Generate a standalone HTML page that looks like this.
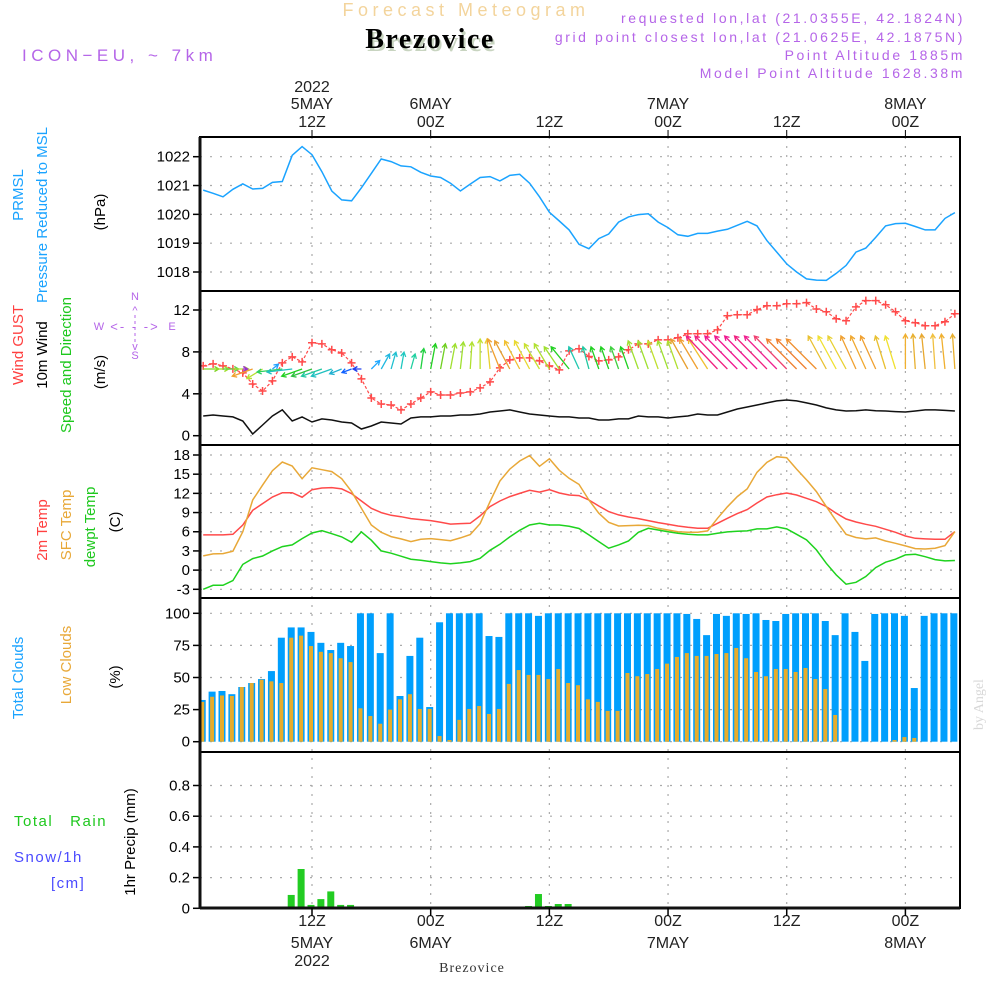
<!DOCTYPE html>
<html><head><meta charset="utf-8"><style>
html,body{margin:0;padding:0;background:#fff}
svg{display:block}
text{font-family:"Liberation Sans",sans-serif}
</style></head><body>
<svg id="chart" width="1000" height="1000" viewBox="0 0 1000 1000" xmlns="http://www.w3.org/2000/svg">
<text x="466" y="16" text-anchor="middle" font-size="18" fill="#f3d49c" letter-spacing="4.5">Forecast Meteogram</text>
<text x="432" y="51" text-anchor="middle" font-size="28" font-weight="bold" fill="#c8d4c0" letter-spacing="1.5" style="font-family:'Liberation Serif',serif">Brezovice</text>
<text x="430" y="48" text-anchor="middle" font-size="28" font-weight="bold" fill="#000" letter-spacing="1.5" style="font-family:'Liberation Serif',serif">Brezovice</text>
<text x="22" y="61" font-size="17" fill="#b565e8" letter-spacing="4.5">ICON−EU, ~ 7km</text>
<g font-size="14" fill="#b565e8" text-anchor="end" letter-spacing="2.6">
<text x="965" y="23">requested lon,lat (21.0355E, 42.1824N)</text>
<text x="965" y="42">grid point closest lon,lat (21.0625E, 42.1875N)</text>
<text x="965" y="60">Point Altitude 1885m</text>
<text x="965" y="78">Model Point Altitude 1628.38m</text>
</g>
<text transform="translate(983,730) rotate(-90)" font-size="14" fill="#d8d8d8" style="font-family:'Liberation Serif',serif">by Angel</text>
<text x="472" y="972" text-anchor="middle" font-size="14" fill="#333" letter-spacing="1" style="font-family:'Liberation Serif',serif">Brezovice</text>
<g id="g"></g>
</svg>
<script>
const pressure=[1020.84,1020.73,1020.61,1020.87,1021.06,1020.88,1020.9,1021.11,1021.14,1022.05,1022.35,1022.07,1021.48,1020.81,1020.5,1020.47,1020.92,1021.42,1021.92,1021.83,1021.68,1021.65,1021.46,1021.33,1021.28,1021.08,1020.81,1021.05,1021.28,1021.31,1021.16,1021.35,1021.39,1021.08,1020.61,1020.07,1019.77,1019.46,1018.96,1018.81,1019.16,1019.32,1019.73,1019.91,1019.99,1020.02,1019.73,1019.54,1019.29,1019.24,1019.34,1019.34,1019.42,1019.48,1019.62,1019.76,1019.6,1019.09,1018.69,1018.28,1018.0,1017.76,1017.72,1017.71,1017.95,1018.23,1018.69,1018.83,1019.2,1019.6,1019.68,1019.69,1019.58,1019.46,1019.46,1019.86,1020.06];
const gust=[6.67,6.86,6.67,6.38,6.0,4.94,4.27,5.23,6.95,7.53,7.05,8.87,8.77,8.2,7.9,6.95,5.42,3.6,3.03,2.93,2.46,3.03,3.6,4.18,3.89,3.89,4.08,4.18,4.56,5.14,6.48,7.24,7.43,7.43,7.14,6.67,6.28,8.1,8.3,7.56,7.14,7.24,7.53,8.2,8.77,8.77,9.15,9.15,9.35,9.73,9.73,9.73,10.1,11.45,11.55,11.55,12.03,12.4,12.4,12.6,12.6,12.7,12.1,11.83,11.16,10.97,12.3,12.9,12.9,12.5,11.83,10.97,10.78,10.5,10.5,10.88,11.64];
const windSpeed=[1.88,1.98,1.88,1.79,1.4,0.16,1.02,1.88,2.46,1.4,1.79,1.31,1.6,1.5,1.31,1.21,0.64,0.93,1.31,1.21,1.12,1.69,1.79,1.79,1.88,1.88,1.98,1.98,2.07,2.26,2.36,2.46,2.26,2.07,1.98,1.88,1.79,1.79,1.69,1.69,1.5,1.5,1.6,1.6,1.88,1.79,1.79,1.69,1.79,1.88,2.07,1.98,1.98,2.26,2.55,2.74,2.93,3.13,3.32,3.41,3.32,3.13,2.93,2.65,2.46,2.36,2.39,2.46,2.39,2.36,2.3,2.26,2.36,2.46,2.46,2.42,2.36];
const windU=[1.3,1.3,1.3,1.3,0.4,-1.7,-1.3,0.5,-2.1,-2.1,-1.7,-1.7,-1.7,-1.7,-1.0,-0.8,-0.7,0.7,0.7,0.4,0.25,0.35,0.25,0.4,0.4,0.4,0.25,0.15,0,-0.25,-1.0,-1.25,-1.25,-1.25,-1.25,-1.25,-1.25,-1.5,-0.85,-0.5,-0.65,-0.65,-0.65,-0.65,-0.85,-0.85,-0.85,-0.85,-0.85,-1.4,-1.5,-1.6,-2.6,-2.7,-2.7,-2.7,-2.7,-2.7,-2.7,-2.7,-2.5,-2.5,-2.5,-1.5,-1.5,-1.5,-1.25,-1.25,-1.25,-0.85,-0.85,0,-0.2,-0.3,-0.2,-0.3,-0.2];
const windV=[0,0,0,0,0,-0.6,-0.8,0.4,-0.25,-0.25,-0.6,-0.6,-0.6,-0.6,-0.4,-0.3,0,0.7,1.25,1.4,1.4,1.25,1.7,2.1,2.1,2.1,2.25,2.25,2.5,2.5,2.5,2.35,2.35,2.35,2.1,2.1,1.85,1.85,1.85,1.85,1.85,1.85,1.85,1.85,2.35,2.35,2.35,2.35,2.35,2.5,2.5,2.5,2.75,2.75,2.75,2.75,2.75,2.75,2.75,2.75,2.5,2.5,2.5,2.75,2.75,2.75,2.75,2.75,2.75,2.75,2.75,2.9,2.9,2.9,2.9,2.9,2.9];
const arrowColors=["#7ed321","#9be02a","#5cd64a","#b0e030","#9b30d0","#f0a030","#b8e030","#20a0ff","#30d060","#20c0c0","#20d020","#30c040","#20c8a0","#20c0c0","#20b0d0","#1060ff","#2040f0","#20a8ff","#20b8e0","#20c0d0","#20c8c0","#20d0a0","#20d040","#20d020","#70d020","#a0e030","#a0e030","#b0e030","#c0e030","#e8d030","#f0a030","#e8a030","#f0c030","#e8d830","#c8e030","#b0e030","#a0e030","#20d020","#20c8b0","#20c8a0","#20d020","#20d020","#40d040","#20d020","#a0e030","#a0e030","#c0e030","#a0e030","#b0e030","#e8a030","#f0a030","#f0c030","#f02080","#f02080","#f01890","#f01890","#f01890","#f02080","#f02090","#f04070","#f08030","#f08030","#f09030","#e8c030","#f0e030","#e8d030","#f0a030","#f0a830","#f0a030","#e8c030","#f0e030","#f0b030","#e8b030","#e8a830","#f0c040","#f0b030","#e8b030"];
const temp2m=[5.5,5.5,5.5,5.6,7.06,9.35,10.4,11.44,12.1,12.1,11.4,12.58,12.84,12.9,12.7,11.96,10.8,9.67,9.0,8.57,8.36,8.05,7.9,7.74,7.48,7.2,7.27,7.32,8.47,9.93,10.8,11.5,12.0,12.48,12.2,12.58,12.06,11.75,11.65,10.97,10.03,9.15,8.63,8.3,8.05,7.74,7.43,7.17,6.9,6.7,6.54,6.54,7.32,8.1,8.83,9.46,10.5,11.44,11.8,12.06,11.75,11.23,10.7,9.93,8.9,8.0,7.53,7.17,6.85,6.38,5.92,5.34,4.98,4.88,4.82,4.82,6.02];
const tempSfc=[2.22,2.53,2.58,2.95,6.0,10.97,13.3,15.55,16.9,16.28,14.3,16.0,15.7,15.4,14.3,12.27,9.67,7.06,5.92,5.24,4.88,4.46,4.82,4.93,4.77,4.6,5.03,5.55,7.27,10.7,13.94,15.8,17.06,17.9,16.23,17.4,15.6,14.35,13.4,10.97,8.9,7.48,6.9,6.96,7.0,6.96,6.54,6.28,6.0,5.92,5.92,6.13,8.1,9.9,11.5,12.7,15.3,16.85,17.74,17.58,15.8,14.1,12.27,9.93,7.7,5.6,5.1,4.88,5.03,4.56,4.2,3.78,3.36,3.3,3.42,3.83,6.02];
const dewpt=[-3,-2.37,-2.37,-1.64,0.9,1.8,2.2,3.0,3.68,3.94,4.93,5.8,6.18,5.7,5.2,4.35,5.97,4.67,3.0,2.64,2.17,1.7,1.54,1.33,1.13,1.0,1.13,1.33,1.85,3.1,4.04,5.2,6.23,7.06,7.32,7.06,7.06,6.85,6.5,5.5,4.46,3.42,3.94,4.56,5.92,6.54,6.28,6.0,5.76,5.6,5.5,5.5,5.76,5.97,6.07,6.13,6.44,6.44,6.75,6.44,5.6,4.72,3.16,1.07,-0.75,-2.2,-1.9,-1.0,0.4,1.23,1.7,2.38,2.48,2.1,1.65,1.44,1.5];
const totalCloud=[32.5,39,39.5,37,42.6,45.7,48.8,55,81,89,89,85.5,77,71.4,77,74.5,100,100,69,100,35.6,66.8,81,27,93,100,100,100,100,82.3,81.6,100,100,100,98,100,100,100,100,100,100,100,100,100,100,100,100,100,100,99.5,95.6,83,99.5,98,100,99.5,100,94.8,94,99.5,100,100,100,94,83,100,85.5,62.9,99.5,100,100,98,41.8,98,100,100,100];
const lowCloud=[31,35,36,35.6,42.6,45.7,48.3,47,45.7,81,82.6,74.5,70,69,65,62,26,20,14,25,33,37,25.5,25.5,4.4,1.3,17,25.5,27.8,21.6,25.5,45,55.8,52,52,48.8,56.6,45.7,44,33,31,24,24,53.5,51,52.7,56.6,60.8,66,69,66.8,66.8,68.3,69,73,65,54.3,51,56.6,56.6,54.3,57.4,48.8,41,20.8,0,0,0,0,0,1.3,3.6,2.9,0,0,0,0];
const precipHours=[10,11,12,13,14,15,16,34,35,36,37,38];
const precipVals=[0.087,0.256,0.022,0.06,0.11,0.022,0.022,0.015,0.093,0.015,0.028,0.028];
const pTicks=[1018,1019,1020,1021,1022];
const wTicks=[0,4,8,12];
const tTicks=[-3,0,3,6,9,12,15,18];
const cTicks=[0,25,50,75,100];
const rTicks=[0,0.2,0.4,0.6,0.8];
const timeTicks=[12,24,36,48,60,72];
const timeLabels=["12Z","00Z","12Z","00Z","12Z","00Z"];
const dateLabels=["5MAY","6MAY","","7MAY","","8MAY"];

const NS="http://www.w3.org/2000/svg";
const G=document.getElementById('g');
const L=200,R=960;
function x(h){return 312+(h-12)*9.89;}
function lin(v0,p0,v1,p1){return v=>p0+(v-v0)*(p1-p0)/(v1-v0);}
const yP=lin(1022,156.7,1018,272);
const yW=lin(0,435.7,12,310);
const yT=lin(18,455,-3,589.3);
const yC=lin(100,613.3,0,741.7);
const yR=lin(0,908.3,0.2,877.6);
function el(tag,attrs,parent){const e=document.createElementNS(NS,tag);for(const k in attrs)e.setAttribute(k,attrs[k]);(parent||G).appendChild(e);return e;}
function txt(s,attrs,parent){const e=el('text',attrs,parent);e.textContent=s;return e;}
const hours=pressure.map((_,i)=>i+1);
const panels=[[137,291],[291,445],[445,598],[598,752],[752,908]];
const defs=el('defs',{});
const cp=el('clipPath',{id:'pc'},defs);el('rect',{x:L,y:130,width:R-L,height:790},cp);
function hgrid(ticks,yf,name){ticks.forEach(t=>{const ln=el('line',{x1:L,x2:R,y1:yf(t),y2:yf(t),stroke:'#aaa','stroke-width':1.2,'stroke-dasharray':'2,8'});


const tk=el('line',{x1:L-7,x2:L,y1:yf(t),y2:yf(t),stroke:'#000','stroke-width':1.5});


const lb=txt(String(t),{x:L-10,y:yf(t)+5,'text-anchor':'end','font-size':15,fill:'#000'});

});}
hgrid(pTicks,yP,'pressure');hgrid(wTicks,yW,'wind');hgrid(tTicks,yT,'temp');hgrid(cTicks,yC,'cloud');hgrid(rTicks.map(v=>+v.toFixed(1)),yR,'precip');
timeTicks.forEach(h=>{const v=el('line',{x1:x(h),x2:x(h),y1:137,y2:908,stroke:'#aaa','stroke-width':1.2,'stroke-dasharray':'2,7'});

});
function line(vals,yf,color,name,w){const d=vals.map((v,i)=>(i?'L':'M')+x(hours[i]).toFixed(1)+','+yf(v).toFixed(1)).join('');
const p=el('path',{d:d,fill:'none',stroke:color,'stroke-width':w||1.5,'clip-path':'url(#pc)'});

return p;}
line(pressure,yP,'#1aa3ff','pressure-line');
line(windSpeed,yW,'#111','wind-speed-line');
const gl=line(gust,yW,'#ff4a4a','gust-line',1.2);gl.setAttribute('stroke-dasharray','3,2');
gust.forEach((v,i)=>{const cx=x(hours[i]),cy=yW(v);
const m=el('path',{d:`M${cx-4},${cy}H${cx+4}M${cx},${cy-4}V${cy+4}`,stroke:'#ff4a4a','stroke-width':1.5,'clip-path':'url(#pc)'});

});
const by=369,sc=12;
windU.forEach((u,i)=>{const x0=x(hours[i]),dx=u*sc,dy=-windV[i]*sc,x1=x0+dx,y1=by+dy;
const len=Math.hypot(dx,dy)||1,ux=dx/len,uy=dy/len,hl=5;
const a1x=x1-hl*(ux*0.87-uy*0.5),a1y=y1-hl*(uy*0.87+ux*0.5),a2x=x1-hl*(ux*0.87+uy*0.5),a2y=y1-hl*(uy*0.87-ux*0.5);
const a=el('path',{d:`M${x0},${by}L${x1},${y1}M${a1x},${a1y}L${x1},${y1}L${a2x},${a2y}`,fill:'none',stroke:arrowColors[i],'stroke-width':1.3,'clip-path':'url(#pc)'});

});
line(temp2m,yT,'#ff4a4a','temp-2m-line');
line(tempSfc,yT,'#e8a838','temp-sfc-line');
line(dewpt,yT,'#1ed21e','dewpoint-line');
totalCloud.forEach((v,i)=>{const cx=x(hours[i])-1;
const b=el('rect',{x:cx-3.5,y:yC(v),width:7,height:yC(0)-yC(v),fill:'#009ffd','clip-path':'url(#pc)'});


const o=el('rect',{x:cx-2,y:yC(lowCloud[i]),width:4,height:yC(0)-yC(lowCloud[i]),fill:'#e6ac2c','clip-path':'url(#pc)'});

});
precipVals.forEach((v,i)=>{const cx=x(precipHours[i])-1;
const b=el('rect',{x:cx-3.5,y:yR(v),width:7,height:yR(0)-yR(v),fill:'#22cc22'});

});
panels.forEach(([t,b],i)=>{const f=el('rect',{x:L,y:t,width:R-L,height:b-t,fill:'none',stroke:'#000','stroke-width':2});

});
const ax=el('line',{x1:L,x2:L,y1:137,y2:909,stroke:'#111','stroke-width':3});


const bx=el('line',{x1:L,x2:R,y1:908,y2:908,stroke:'#111','stroke-width':3});


timeTicks.forEach((h,i)=>{const cx=x(h);
const t1=txt(timeLabels[i],{x:cx,y:127,'text-anchor':'middle','font-size':16,fill:'#222'});


const t2=txt(timeLabels[i],{x:cx,y:926,'text-anchor':'middle','font-size':16,fill:'#222'});


el('line',{x1:cx,x2:cx,y1:130,y2:137,stroke:'#000'});el('line',{x1:cx,x2:cx,y1:908,y2:916,stroke:'#000','stroke-width':1.5});
if(dateLabels[i]){const d1=txt(dateLabels[i],{x:cx,y:109,'text-anchor':'middle','font-size':16,fill:'#222'});


const d2=txt(dateLabels[i],{x:cx,y:948,'text-anchor':'middle','font-size':16,fill:'#222'});

}
if(i===0){const y1=txt('2022',{x:cx,y:92,'text-anchor':'middle','font-size':16,fill:'#222'});


const y2=txt('2022',{x:cx,y:966,'text-anchor':'middle','font-size':16,fill:'#222'});

}});
function vt(s,cx,cy,color,name){const t=txt(s,{transform:`translate(${cx},${cy}) rotate(-90)`,'text-anchor':'middle','font-size':15,fill:color});

}
vt('PRMSL',23,195,'#1aa3ff','prmsl-title');
vt('Pressure Reduced to MSL',47,215,'#1aa3ff','pressure-title');
vt('(hPa)',105,212,'#000','pressure-unit');
vt('Wind GUST',23,345,'#ff4040','gust-title');
vt('10m Wind',47,355,'#000','wind-title');
vt('Speed and Direction',71,365,'#1ec81e','wind-direction-title');
vt('(m/s)',105,372,'#000','wind-unit');
vt('2m Temp',47,530,'#ff4040','temp-2m-title');
vt('SFC Temp',71,525,'#e8a838','temp-sfc-title');
vt('dewpt Temp',95,527,'#1ec81e','dewpoint-title');
vt('(C)',120,522,'#000','temp-unit');
vt('Total Clouds',23,678,'#1aa3ff','total-cloud-title');
vt('Low Clouds',71,665,'#e8a838','low-cloud-title');
vt('(%)',120,677,'#000','cloud-unit');
vt('1hr Precip (mm)',135,842,'#000','precip-title');
const r1=txt('Total   Rain',{x:14,y:826,'font-size':15,fill:'#1ec81e','letter-spacing':1.5,'xml:space':'preserve'});


r1.style.whiteSpace='pre';
const r2=txt('Snow/1h',{x:14,y:862,'font-size':15,fill:'#4a4aff','letter-spacing':1.5});


const r3=txt('[cm]',{x:51,y:888,'font-size':15,fill:'#4a4aff','letter-spacing':1.5});


const cg=el('g',{fill:'#b565e8','font-size':11,'text-anchor':'middle'});


txt('N',{x:135,y:300},cg);txt('S',{x:135,y:359},cg);txt('W',{x:99,y:330},cg);txt('E',{x:172,y:330},cg);
txt('<- - ->',{x:135,y:331,'font-size':13,'letter-spacing':2},cg);txt('^',{x:135,y:314},cg);txt('v',{x:135,y:350},cg);
el('line',{x1:135,x2:135,y1:315,y2:342,stroke:'#b565e8','stroke-dasharray':'3,3'},cg);
</script>
</body></html>
